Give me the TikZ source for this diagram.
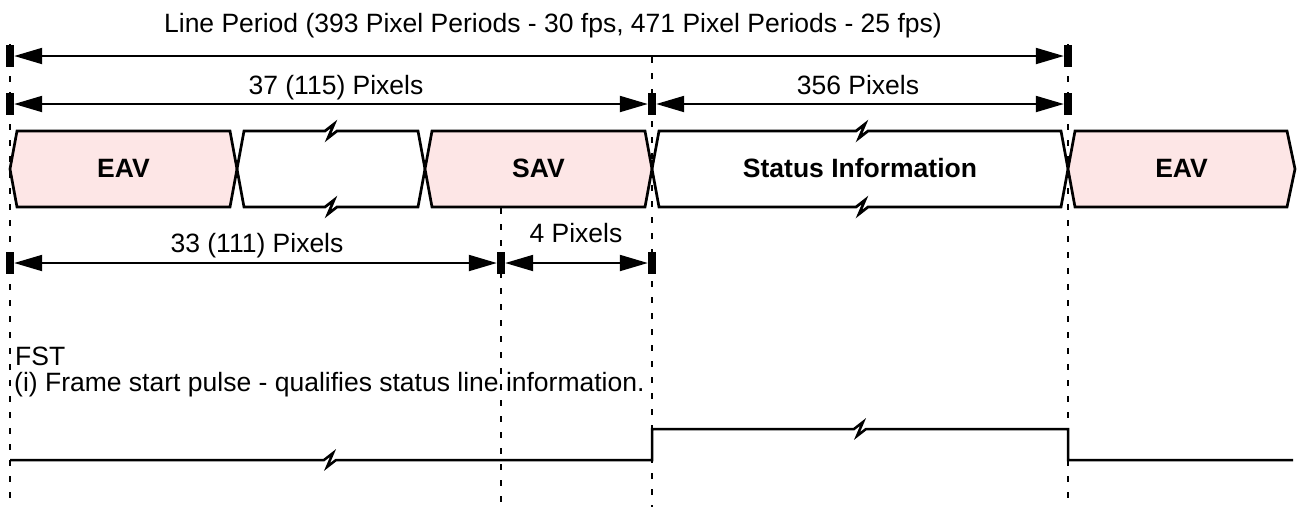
\documentclass[tikz,border=0pt]{standalone}
\usepackage{fontspec}
\setmainfont{Liberation Sans}
\usetikzlibrary{arrows.meta}
\definecolor{eavpink}{RGB}{253,230,230}
\tikzset{
  txt/.style={font=\fontsize{26.5}{30}\selectfont, inner sep=0pt, anchor=base},
  lbl/.style={txt, font=\fontsize{26.5}{30}\selectfont\bfseries},
  bar/.style={fill=black, minimum width=8pt, minimum height=22pt, inner sep=0pt},
  dim/.style={line width=2pt, {Triangle[length=28pt,width=16pt]}-{Triangle[length=28pt,width=16pt]}},
  guide/.style={line width=2pt, dash pattern=on 6pt off 10pt},
  bus/.style={line width=2.7pt, line join=miter},
  sig/.style={line width=2.5pt}
}
% marca de corte en una linea horizontal
\newcommand{\cut}[2]{-- (#1-6,#2) -- (#1+3,#2-7) -- (#1-3,#2+7) -- (#1+6,#2)}
\newcommand{\cutback}[2]{-- (#1+6,#2) -- (#1-3,#2+7) -- (#1+3,#2-7) -- (#1-6,#2)}
\begin{document}
\begin{tikzpicture}[x=1pt,y=-1pt]
    \useasboundingbox (0,0) rectangle (1298,507);
    % Lineas guia
    \coordinate (g0top) at (10,44);   \coordinate (g0bot) at (10,507);
    \coordinate (g1top) at (501,208); \coordinate (g1bot) at (501,507);
    \coordinate (g2top) at (652,57);  \coordinate (g2bot) at (652,507);
    \coordinate (g3top) at (1068,44); \coordinate (g3bot) at (1068,507);
    \foreach \g in {g0,g1,g2,g3} \draw[guide] (\g top) -- (\g bot);
    % Periodo de linea
    \node[bar] (lp0) at (10,56) {};
    \node[bar] (lp1) at (1068,56) {};
    \draw[dim] (lp0) -- (lp1);
    \node[txt] (lptxt) at (553,32) {Line Period (393 Pixel Periods - 30 fps, 471 Pixel Periods - 25 fps)};
    % 37 (115) y 356 pixeles
    \node[bar] (px0) at (10,104) {};
    \node[bar] (px1) at (652,104) {};
    \node[bar] (px2) at (1068,104) {};
    \draw[dim] (px0) -- (px1);
    \draw[dim] (px1) -- (px2);
    \node[txt] (pxa) at (336,94) {37 (115) Pixels};
    \node[txt] (pxb) at (858,94) {356 Pixels};
    % Bus de datos
    \fill[eavpink] (10,169) -- (17,131) -- (230,131) -- (237,169) -- (230,207) -- (17,207) -- cycle;
    \draw[bus] (10,169) -- (17,131) -- (230,131) -- (237,169) -- (230,207) -- (17,207) -- cycle;
    \draw[bus] (237,169) -- (244,131) \cut{331}{131} -- (418,131) -- (425,169) -- (418,207) \cutback{331}{207} -- (244,207) -- cycle;
    \fill[eavpink] (425,169) -- (432,131) -- (645,131) -- (652,169) -- (645,207) -- (432,207) -- cycle;
    \draw[bus] (425,169) -- (432,131) -- (645,131) -- (652,169) -- (645,207) -- (432,207) -- cycle;
    \draw[bus] (652,169) -- (659,131) \cut{862}{131} -- (1061,131) -- (1068,169) -- (1061,207) \cutback{862}{207} -- (659,207) -- cycle;
    \fill[eavpink] (1068,169) -- (1075,131) -- (1287,131) -- (1295,169) -- (1287,207) -- (1075,207) -- cycle;
    \draw[bus] (1068,169) -- (1075,131) -- (1287,131) -- (1295,169) -- (1287,207) -- (1075,207) -- cycle;
    \node[lbl] (eav1) at (123.5,177) {EAV};
    \node[lbl] (sav) at (538.5,177) {SAV};
    \node[lbl] (stat) at (860,177) {Status Information};
    \node[lbl] (eav2) at (1181.5,177) {EAV};
    % 33 (111) y 4 pixeles
    \node[bar] (sv0) at (10,263) {};
    \node[bar] (sv1) at (501,263) {};
    \node[bar] (sv2) at (652,263) {};
    \draw[dim] (sv0) -- (sv1);
    \draw[dim] (sv1) -- (sv2);
    \node[txt] (sva) at (257,252) {33 (111) Pixels};
    \node[txt] (svb) at (576,242) {4 Pixels};
    % Senal FST
    \node[txt, anchor=base west] (fst) at (15,365) {FST};
    \node[txt, anchor=base west] (fstnote) at (14,391) {(i) Frame start pulse - qualifies status line information.};
    \draw[sig] (10,460) \cut{330}{460} -- (652,460) -- (652,429) \cut{860}{429} -- (1068,429) -- (1068,460) -- (1293,460);
\end{tikzpicture}
\end{document}
